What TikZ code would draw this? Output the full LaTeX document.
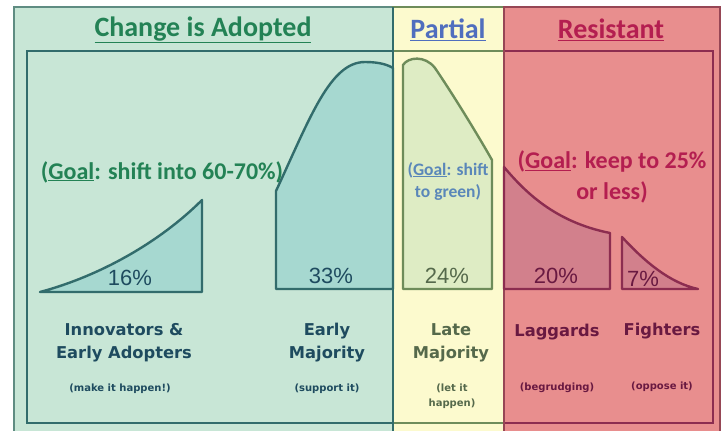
\documentclass[tikz,border=0pt]{standalone}
\usepackage{fontspec}
\setmainfont{Carlito}
\newfontfamily\verd{DejaVu Sans}
\newfontfamily\arial{Liberation Sans}
\definecolor{gpanel}{RGB}{200,230,214}
\definecolor{gshape}{RGB}{166,216,208}
\definecolor{gline}{RGB}{50,108,108}
\definecolor{gborder}{RGB}{95,140,130}
\definecolor{gtext}{RGB}{35,130,85}
\definecolor{glabel}{RGB}{30,75,95}
\definecolor{ypanel}{RGB}{252,250,206}
\definecolor{yshape}{RGB}{222,236,196}
\definecolor{yline}{RGB}{110,140,90}
\definecolor{ylabel}{RGB}{85,105,75}
\definecolor{btext}{RGB}{80,110,190}
\definecolor{bgoal}{RGB}{90,135,185}
\definecolor{rpanel}{RGB}{232,142,142}
\definecolor{rshape}{RGB}{210,128,140}
\definecolor{rline}{RGB}{140,45,80}
\definecolor{rborder}{RGB}{150,70,85}
\definecolor{rtext}{RGB}{180,30,80}
\definecolor{rlabel}{RGB}{105,25,65}
\tikzset{
  shapeline/.style={line width=2.4pt, line join=round},
  header/.style={font=\bfseries\fontsize{28}{32}\selectfont, inner sep=0pt},
  pct/.style={font=\arial\fontsize{22}{26}\selectfont, inner sep=0pt},
  grouplabel/.style={font=\verd\bfseries\fontsize{16.3}{23}\selectfont, align=center, inner sep=0pt},
  smalllabel/.style={font=\verd\bfseries\fontsize{10}{14.5}\selectfont, align=center, inner sep=0pt},
  goal/.style={font=\bfseries\fontsize{24}{31}\selectfont, align=center, inner sep=0pt}
}
\begin{document}
\begin{tikzpicture}[x=1pt,y=-1pt]
\useasboundingbox (0,0) rectangle (723,431);
\clip (0,0) rectangle (723,431);
\fill[white] (0,0) rectangle (723,431);
% panels
\draw[gborder, line width=1.5pt, fill=gpanel] (14,7) rectangle (393,445);
\draw[yline, line width=1.5pt, fill=ypanel] (393,7) rectangle (504,445);
\draw[rborder, line width=1.5pt, fill=rpanel] (504,7) rectangle (720,445);
% inner frame
\draw[gline, line width=1.8pt] (393,51) -- (27,51) -- (27,423) -- (393,423);
\draw[yline, line width=1.8pt] (393,51) -- (504,51) (393,423) -- (504,423);
\draw[rline, line width=1.8pt] (504,51) -- (713,51) -- (713,423) -- (504,423);
\draw[gline, line width=1.6pt] (393,7) -- (393,445);
\draw[rborder, line width=1.6pt] (504,7) -- (504,445);
% curves
\draw[shapeline, gline, fill=gshape] (40,292) .. controls (100,276) and (160,242) .. (202,200) -- (202,292) -- cycle;
\draw[shapeline, gline, fill=gshape] (276,289) -- (276,191) .. controls (310,118) and (330,62) .. (365,62) .. controls (380,62) and (388,65) .. (393,68) -- (393,289) -- cycle;
\draw[shapeline, yline, fill=yshape] (403,289) -- (403,65) .. controls (408,57) and (425,55) .. (435,68) .. controls (450,90) and (475,130) .. (492,160) -- (492,289) -- cycle;
\draw[shapeline, rline, fill=rshape] (504,167) .. controls (525,192) and (555,222) .. (610,233) -- (610,289) -- (504,289) -- cycle;
\draw[shapeline, rline, fill=rshape] (622,237) .. controls (645,262) and (670,283) .. (698,289) -- (622,289) -- cycle;
% headers
\node[header, text=gtext] (h1) at (203,30) {\underline{Change is Adopted}};
\node[header, text=btext] (h2) at (448,30) {\underline{Partial}};
\node[header, text=rtext] (h3) at (611,30) {\underline{Resistant}};
% goals
\node[goal, text=gtext] (g1) at (162,172) {(\underline{Goal}: shift into 60-70\%)};
\node[goal, text=bgoal, font=\bfseries\fontsize{17.5}{22}\selectfont] (g2) at (448,181) {(\underline{Goal}: shift\\to green)};
\node[goal, text=rtext] (g3) at (612,177) {(\underline{Goal}: keep to 25\%\\or less)};
% percentages
\node[pct, text=glabel] (p1) at (130,278) {16\%};
\node[pct, text=glabel] (p2) at (331,276) {33\%};
\node[pct, text=ylabel] (p3) at (447,276) {24\%};
\node[pct, text=rlabel] (p4) at (556,276) {20\%};
\node[pct, text=rlabel] (p5) at (643,279) {7\%};
% group labels
\node[grouplabel, text=glabel] (l1) at (124,343) {Innovators \&\\Early Adopters};
\node[grouplabel, text=glabel] (l2) at (327,343) {Early\\Majority};
\node[grouplabel, text=ylabel] (l3) at (451,343) {Late\\Majority};
\node[grouplabel, text=rlabel] (l4) at (557,332) {Laggards};
\node[grouplabel, text=rlabel] (l5) at (662,331) {Fighters};
% small labels
\node[smalllabel, text=glabel] (s1) at (120,389) {(make it happen!)};
\node[smalllabel, text=glabel] (s2) at (327,389) {(support it)};
\node[smalllabel, text=ylabel] (s3) at (452,396) {(let it\\happen)};
\node[smalllabel, text=rlabel] (s4) at (557,388) {(begrudging)};
\node[smalllabel, text=rlabel] (s5) at (662,387) {(oppose it)};
\end{tikzpicture}
\end{document}
